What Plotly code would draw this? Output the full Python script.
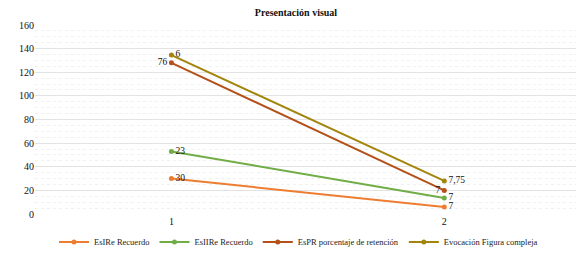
import plotly.graph_objects as go

categories = ["1", "2"]
series_names = ["EsIRe Recuerdo", "EsIIRe Recuerdo", "EsPR porcentaje de retención", "Evocación Figura compleja"]
esire = [30, 6]
esiire = [53, 13.5]
espr = [128, 20]
evocacion = [134.5, 28]
labels_esire = ["30", "7"]
labels_esiire = ["23", "7"]
labels_espr = ["76", "7"]
labels_evoc = ["6", "7,75"]

colors = ["#ED7D31", "#70AD47", "#B4501A", "#A3850C"]
positions = [
    ["middle right", "middle right"],
    ["middle right", "middle right"],
    ["middle left", "middle left"],
    ["middle right", "middle right"],
]

fig = go.Figure()
for name, vals, labs, col, pos in zip(
    series_names,
    [esire, esiire, espr, evocacion],
    [labels_esire, labels_esiire, labels_espr, labels_evoc],
    colors,
    positions,
):
    fig.add_trace(go.Scatter(
        x=categories, y=vals, name=name, mode="lines+markers+text",
        text=labs, textposition=pos,
        textfont=dict(family="Liberation Serif", size=9.5, color="#111111"),
        line=dict(color=col, width=2), marker=dict(color=col, size=5),
    ))

fig.update_layout(
    width=576, height=247,
    margin=dict(l=27, r=6, t=17, b=41, autoexpand=False),
    paper_bgcolor="white", plot_bgcolor="white",
    title=dict(text="<b>Presentación visual</b>", x=0.5, xanchor="center", y=0.995, yanchor="top",
               font=dict(family="Liberation Serif", size=10, color="#111111")),
    font=dict(family="Liberation Serif", size=9, color="#222222"),
    legend=dict(orientation="h", x=0.035, xanchor="left", y=-0.148, yanchor="middle",
                font=dict(family="Liberation Serif", size=8.5, color="#222222"),
                itemwidth=30, tracegroupgap=0),
    showlegend=True,
)
fig.update_xaxes(showgrid=False, showline=False, zeroline=False, ticks="",
                 tickfont=dict(family="Liberation Serif", size=10, color="#111111"),
                 range=[-0.5, 1.49])
fig.update_yaxes(range=[0, 160], dtick=20, showgrid=True, gridcolor="#E3E3E3", gridwidth=1,
                 zeroline=False, showline=False, ticks="",
                 tickfont=dict(family="Liberation Serif", size=10, color="#111111"),
                 minor=dict(dtick=5, showgrid=True, gridcolor="#F0F0F0", griddash="dot"))

fig.write_html("out.html")
